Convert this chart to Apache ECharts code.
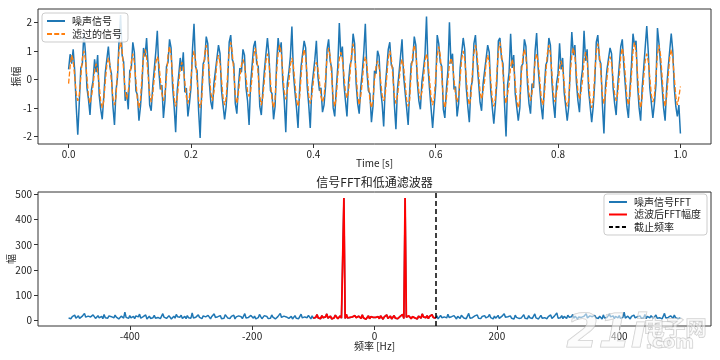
<!DOCTYPE html>
<html><head><meta charset="utf-8">
<script src="https://cdn.jsdelivr.net/npm/echarts@6/dist/echarts.min.js"></script>
<style>html,body{margin:0;padding:0;background:#fff}#c{width:720px;height:360px}</style>
</head><body><div id="c"></div>
<script>
// ---------- data ----------
const sampleStep = 0.0025; // seconds between plotted samples
const sigFiltered = [
-0.15,0.45,0.85,0.66,0.08,-0.50,-0.75,-0.55,
0.08,0.74,1.00,0.73,0.07,-0.58,-0.85,-0.60,
-0.22,0.33,0.55,0.30,-0.20,-0.78,-1.00,-0.75,
-0.08,0.50,0.75,0.53,-0.05,-0.66,-0.90,-0.62,
0.28,1.00,1.30,1.03,0.32,-0.42,-0.70,-0.40,
-0.06,0.62,0.90,0.60,-0.04,-0.73,-1.00,-0.70,
0.12,0.80,1.05,0.77,0.14,-0.53,-0.80,-0.55,
0.03,0.57,0.80,0.59,0.00,-0.52,-0.75,-0.50,
0.10,0.85,1.15,0.83,0.12,-0.65,-0.95,-0.67,
-0.13,0.38,0.60,0.40,-0.10,-0.63,-0.85,-0.61,
0.00,0.72,1.00,0.70,-0.02,-0.70,-1.00,-0.73,
0.22,0.92,1.20,0.90,0.24,-0.47,-0.75,-0.45,
-0.03,0.60,0.85,0.58,-0.01,-0.64,-0.90,-0.66,
0.22,0.99,1.30,0.97,0.25,-0.54,-0.85,-0.52,
0.05,0.50,0.70,0.52,0.06,-0.41,-0.60,-0.43,
0.10,0.80,1.10,0.83,0.12,-0.60,-0.90,-0.62,
-0.05,0.63,0.90,0.60,-0.07,-0.72,-1.00,-0.70,
0.25,0.91,1.20,0.93,0.27,-0.43,-0.70,-0.41,
-0.10,0.50,0.75,0.48,-0.12,-0.70,-0.95,-0.68,
0.10,0.77,1.05,0.75,0.12,-0.57,-0.85,-0.59,
-0.10,0.40,0.60,0.38,-0.08,-0.60,-0.80,-0.62,
0.07,0.80,1.10,0.82,0.09,-0.66,-0.95,-0.64,
0.15,0.72,0.95,0.70,0.17,-0.42,-0.65,-0.44,
0.17,0.94,1.25,0.92,0.19,-0.58,-0.90,-0.60,
-0.10,0.54,0.80,0.52,-0.09,-0.74,-1.00,-0.72,
-0.05,0.45,0.65,0.43,-0.04,-0.55,-0.75,-0.57,
0.07,0.73,1.00,0.75,0.09,-0.58,-0.85,-0.60,
-0.12,0.46,0.70,0.48,-0.10,-0.71,-0.95,-0.73,
0.25,0.92,1.20,0.90,0.23,-0.42,-0.70,-0.44,
0.00,0.64,0.90,0.62,-0.02,-0.64,-0.90,-0.66,
0.07,0.83,1.15,0.85,0.09,-0.69,-1.00,-0.67,
-0.03,0.52,0.75,0.54,-0.01,-0.58,-0.80,-0.56,
0.05,0.72,1.00,0.70,0.07,-0.62,-0.90,-0.64,
0.25,0.92,1.20,0.90,0.27,-0.44,-0.70,-0.42,
-0.05,0.59,0.85,0.61,-0.03,-0.69,-0.95,-0.67,
0.22,0.98,1.30,0.96,0.24,-0.54,-0.85,-0.52,
-0.15,0.45,0.70,0.47,-0.13,-0.75,-1.00,-0.73,
0.15,0.79,1.05,0.77,0.17,-0.49,-0.75,-0.47,
0.00,0.64,0.90,0.62,0.02,-0.64,-0.90,-0.62,
0.20,0.91,1.20,0.89,0.22,-0.51,-0.80,-0.49,
-0.15,0.42,0.65,0.40,-0.13,-0.72,-0.95,-0.70,
0.20,0.84,1.10,0.82,0.22,-0.44,-0.70,-0.46,
-0.03,0.66,0.95,0.68,-0.01,-0.72,-1.00,-0.70,
0.20,0.95,1.25,0.93,0.22,-0.55,-0.85,-0.53,
0.03,0.58,0.80,0.56,0.05,-0.52,-0.75,-0.50,
0.10,0.81,1.10,0.79,0.12,-0.61,-0.90,-0.59,
0.15,0.97,1.30,0.95,0.17,-0.67,-1.00,-0.65,
0.05,0.65,0.90,0.63,0.07,-0.55,-0.80,-0.57,
0.12,0.88,1.20,0.86,0.14,-0.64,-0.95,-0.62,
0.07,0.76,1.05,0.74,0.09,-0.60,-0.90,-0.62,
-0.25
];
const sigNoisy = [
0.35,0.88,0.55,1.05,0.30,-0.95,-1.94,-0.80,
0.40,0.55,1.62,0.95,-0.30,-0.70,-1.25,-0.35,
-0.05,0.70,0.25,0.85,-0.55,-1.05,-1.40,-0.60,
0.25,0.30,1.15,0.45,0.20,-0.95,-1.60,-0.40,
0.10,1.35,2.25,0.85,0.60,-0.75,-0.45,-1.05,
0.30,0.40,1.30,0.95,-0.40,-0.55,-1.45,-0.95,
-0.20,1.10,0.80,1.45,0.45,-0.90,-1.10,-0.25,
0.35,0.95,1.70,0.30,-0.35,-0.20,-1.35,-0.75,
0.45,0.60,1.40,1.10,-0.25,-0.95,-1.85,-0.40,
0.15,0.75,0.30,0.95,-0.45,-0.30,-1.30,-0.85,
-0.30,1.05,1.95,0.45,0.30,-1.10,-2.05,-0.45,
0.55,0.70,1.50,1.25,-0.10,-0.80,-1.05,-0.15,
0.30,0.35,1.20,0.90,-0.40,-0.35,-1.40,-0.95,
-0.10,1.30,1.55,0.70,0.55,-0.85,-1.20,-0.25,
0.40,0.25,1.05,0.85,-0.30,-0.75,-1.60,-0.15,
-0.20,1.15,1.35,0.55,0.45,-0.95,-1.25,-0.40,
0.30,0.35,1.45,0.85,-0.40,-0.50,-1.40,-0.95,
0.55,1.45,0.95,1.30,-0.05,-0.75,-1.85,-0.15,
0.25,0.80,1.85,0.20,-0.45,-1.00,-1.70,-0.40,
0.45,0.50,1.35,1.10,-0.25,-0.90,-1.70,-0.30,
0.20,0.70,1.35,0.10,-0.40,-0.30,-1.15,-0.90,
-0.25,1.05,1.40,0.65,0.40,-1.00,-1.30,-0.35,
0.45,1.97,0.80,1.15,-0.15,-0.75,-1.30,-0.10,
0.50,0.70,1.60,1.25,-0.15,-0.85,-1.20,-0.30,
0.25,0.95,1.95,0.30,-0.40,-0.50,-1.50,-0.95,
0.30,0.20,1.00,0.80,-0.35,-0.85,-1.65,-0.30,
-0.25,1.05,1.30,0.50,0.40,-0.90,-1.75,-0.35,
0.20,0.80,1.40,0.15,-0.45,-1.00,-1.60,-0.40,
0.55,0.65,1.50,1.20,-0.10,-0.75,-1.05,-0.10,
0.35,0.85,2.20,0.40,-0.35,-0.40,-1.70,-0.95,
-0.25,1.55,1.25,0.60,0.45,-1.05,-1.35,-0.35,
0.30,2.00,0.55,0.90,-0.35,-0.25,-1.30,-0.85,
0.40,0.45,1.45,1.05,-0.30,-0.95,-1.50,-0.30,
-0.05,1.25,1.55,0.65,0.60,-0.80,-1.10,-0.15,
0.30,0.35,1.20,0.95,-0.40,-0.45,-1.55,-0.90,
-0.10,1.35,1.45,0.75,0.55,-0.85,-2.00,-0.20,
0.25,1.60,0.40,0.85,-0.50,-0.45,-1.45,-1.00,
0.45,0.55,1.40,1.15,-0.15,-0.85,-1.20,-0.15,
-0.30,1.00,1.62,0.40,0.35,-0.95,-1.40,-0.30,
0.50,0.65,1.45,1.20,-0.10,-0.85,-1.35,-0.15,
0.20,1.26,0.35,0.75,-0.45,-0.45,-1.45,-0.95,
0.50,1.66,0.85,1.20,-0.10,-0.75,-1.15,-0.10,
0.35,1.70,0.65,1.05,-0.40,-0.45,-1.50,-0.95,
-0.10,1.30,1.55,0.70,0.55,-0.90,-1.90,-0.25,
0.35,0.30,1.10,0.90,-0.30,-0.85,-1.25,-0.20,
-0.20,1.15,1.40,0.50,0.45,-0.95,-1.35,-0.35,
0.50,1.60,1.20,1.35,-0.20,-1.00,-1.45,-0.30,
0.40,0.40,1.87,0.95,-0.30,-0.30,-1.35,-0.85,
-0.20,1.80,1.25,0.55,0.50,-1.00,-1.45,-0.30,
0.40,0.45,1.60,1.00,-0.30,-0.95,-1.30,-0.90,
-1.90
];
// FFT magnitude for f = 0,2,4,...,500 Hz (spectrum of a real signal is mirror-symmetric)
const fftStep = 2;
const fftHalf = [
6,12,9,15,7,18,11,5,14,10,
22,8,13,17,6,11,19,9,14,7,
12,16,10,24,8,485,13,9,18,11,
7,15,21,10,13,6,17,12,9,26,
14,8,11,19,7,16,10,23,12,15,
9,18,6,13,20,11,8,14,17,10,
25,12,7,15,9,19,13,6,16,11,
8,21,14,10,17,7,12,28,9,15,
11,6,18,13,22,9,14,8,16,12,
19,10,7,15,24,11,13,6,17,9,
14,20,8,12,16,10,27,13,7,15,
11,18,9,14,6,21,12,16,8,13,
10,17,23,9,14,7,19,11,15,8,
12,26,10,16,6,13,20,9,14,11,
18,7,15,12,22,8,13,17,10,30,
9,14,11,19,7,16,12,8,21,13,
10,15,24,9,17,11,6,14,19,12,
8,16,13,27,10,7,18,12,15,9,
20,11,14,8,17,13,6,22,10,15,
12,9,25,14,11,18,7,16,13,10,
19,8,15,12,33,9,14,17,11,6,
16,13,21,10,8,15,12,18,9,14,
11,24,7,16,13,10,19,12,8,15,
22,9,14,11,17,6,13,28,10,16,
12,8,18,14,9,21,11,15,7,13,
10
];
const cutoffHz = 100;
const timeTicks = [0, 0.2, 0.4, 0.6, 0.8, 1.0];
const ampTicks = [-2, -1, 0, 1, 2];
const freqTicks = [-400, -200, 0, 200, 400];
const magTicks = [0, 100, 200, 300, 400, 500];

// ---------- build series data ----------
const noisyData = sigNoisy.map((v, i) => [+(i * sampleStep).toFixed(4), v]);
const filtData = sigFiltered.map((v, i) => [+(i * sampleStep).toFixed(4), v]);
const fftMags = fftHalf.slice(1).reverse().concat(fftHalf);
const fftMaxF = (fftHalf.length - 1) * fftStep;
const fftData = fftMags.map((v, i) => [-fftMaxF + i * fftStep, v]);
const fftFiltData = fftData.filter(p => Math.abs(p[0]) <= cutoffHz);

const FONT = '"Noto Sans CJK SC", "DejaVu Sans", sans-serif';
const txt = {fontFamily: FONT, fontSize: 10, color: '#222'};

const chart = echarts.init(document.getElementById('c'), null, {renderer: 'canvas'});
const axisCommon = {
  axisLine: {show: false, onZero: false},
  splitLine: {show: false},
  nameMoveOverlap: false,
  axisTick: {show: true, inside: false, length: 4, lineStyle: {color: '#333', width: 1}},
};
const legendCommon = {
  orient: 'vertical', itemWidth: 18, itemHeight: 10, padding: [3, 6, 3, 4],
  backgroundColor: 'rgba(255,255,255,0.85)', borderColor: '#ccc', borderWidth: 1, borderRadius: 3,
  itemStyle: {opacity: 0},
  textStyle: Object.assign({}, txt, {padding: [0, 0, 0, 2]})
};
chart.setOption({
  animation: false,
  backgroundColor: '#fff',
  title: {
    text: '信号FFT和低通滤波器', left: 374.5, top: 176, padding: 0, textAlign: 'center',
    textStyle: {fontFamily: FONT, fontSize: 12, fontWeight: 'normal', color: '#222'}
  },
  grid: [
    {left: 38, top: 9, width: 673, height: 135, show: true, borderColor: '#333', borderWidth: 1,
     backgroundColor: 'transparent', containLabel: false, outerBoundsMode: 'none'},
    {left: 38, top: 192, width: 673, height: 134, show: true, borderColor: '#333', borderWidth: 1,
     backgroundColor: 'transparent', containLabel: false, outerBoundsMode: 'none'}
  ],
  xAxis: [
    Object.assign({}, axisCommon, {
      type: 'value', gridIndex: 0, min: -0.05, max: 1.05,
      axisTick: Object.assign({}, axisCommon.axisTick, {customValues: timeTicks}),
      axisLabel: Object.assign({}, txt, {customValues: timeTicks, margin: 5, formatter: v => v.toFixed(1)}),
      name: 'Time [s]', nameLocation: 'middle', nameGap: 14,
      nameTextStyle: Object.assign({}, txt)
    }),
    Object.assign({}, axisCommon, {
      type: 'value', gridIndex: 1, min: -550, max: 550,
      axisTick: Object.assign({}, axisCommon.axisTick, {customValues: freqTicks}),
      axisLabel: Object.assign({}, txt, {customValues: freqTicks, margin: 5, formatter: v => String(v)}),
      name: '频率 [Hz]', nameLocation: 'middle', nameGap: 15,
      nameTextStyle: Object.assign({}, txt)
    })
  ],
  yAxis: [
    Object.assign({}, axisCommon, {
      type: 'value', gridIndex: 0, min: -2.265, max: 2.465,
      axisTick: Object.assign({}, axisCommon.axisTick, {customValues: ampTicks}),
      axisLabel: Object.assign({}, txt, {customValues: ampTicks, margin: 6, formatter: v => String(v)}),
      name: '振幅', nameLocation: 'middle', nameGap: 17,
      nameTextStyle: Object.assign({}, txt)
    }),
    Object.assign({}, axisCommon, {
      type: 'value', gridIndex: 1, min: -22, max: 509,
      axisTick: Object.assign({}, axisCommon.axisTick, {customValues: magTicks}),
      axisLabel: Object.assign({}, txt, {customValues: magTicks, margin: 6, formatter: v => String(v)}),
      name: '幅', nameLocation: 'middle', nameGap: 22,
      nameTextStyle: Object.assign({}, txt)
    })
  ],
  legend: [
    Object.assign({}, legendCommon, {data: ['噪声信号', '滤过的信号'], left: 42, top: 13, itemGap: 3}),
    Object.assign({}, legendCommon, {data: ['噪声信号FFT', '滤波后FFT幅度', '截止频率'], right: 13, top: 194, itemGap: 2.5})
  ],
  series: [
    {
      name: '噪声信号', type: 'line', xAxisIndex: 0, yAxisIndex: 0, data: noisyData,
      symbol: 'none', color: '#1f77b4', lineStyle: {color: '#1f77b4', width: 1.5}, z: 2
    },
    {
      name: '滤过的信号', type: 'line', xAxisIndex: 0, yAxisIndex: 0, data: filtData,
      symbol: 'none', color: '#ff7f0e', lineStyle: {color: '#ff7f0e', width: 1.3, type: [5, 2.2]}, z: 3
    },
    {
      name: '噪声信号FFT', type: 'line', xAxisIndex: 1, yAxisIndex: 1, data: fftData,
      symbol: 'none', color: '#1f77b4', lineStyle: {color: '#1f77b4', width: 1.5}, z: 2
    },
    {
      name: '滤波后FFT幅度', type: 'line', xAxisIndex: 1, yAxisIndex: 1, data: fftFiltData,
      symbol: 'none', color: '#ff0000', lineStyle: {color: '#ff0000', width: 1.8}, z: 3
    },
    {
      name: '截止频率', type: 'line', xAxisIndex: 1, yAxisIndex: 1, data: [],
      symbol: 'none', color: '#000', lineStyle: {color: '#000', width: 1.5, type: [4, 2.5]}, z: 4,
      markLine: {
        silent: true, symbol: ['none', 'none'], label: {show: false},
        lineStyle: {color: '#000', width: 1.5, type: [5, 3]},
        data: [{xAxis: cutoffHz}]
      }
    }
  ],
  graphic: [
    {type: 'text', left: 566, top: 312, z: 100, silent: true,
     style: {text: '21ic', fontFamily: '"DejaVu Sans", sans-serif', fontSize: 46, fontWeight: 'bold', fontStyle: 'italic',
             fill: 'rgba(250,250,250,0.55)', stroke: 'rgba(160,160,160,0.55)', lineWidth: 1}},
    {type: 'text', left: 643, top: 316, z: 100, silent: true,
     style: {text: '电子网', fontFamily: FONT, fontSize: 21, fontWeight: 'bold',
             fill: 'rgba(250,250,250,0.55)', stroke: 'rgba(160,160,160,0.55)', lineWidth: 1}},
    {type: 'text', left: 645, top: 334, z: 100, silent: true,
     style: {text: '.com', fontFamily: '"DejaVu Sans", sans-serif', fontSize: 18, fontWeight: 'bold',
             fill: 'rgba(250,250,250,0.55)', stroke: 'rgba(160,160,160,0.55)', lineWidth: 1}}
  ]
});
</script>
</body></html>
